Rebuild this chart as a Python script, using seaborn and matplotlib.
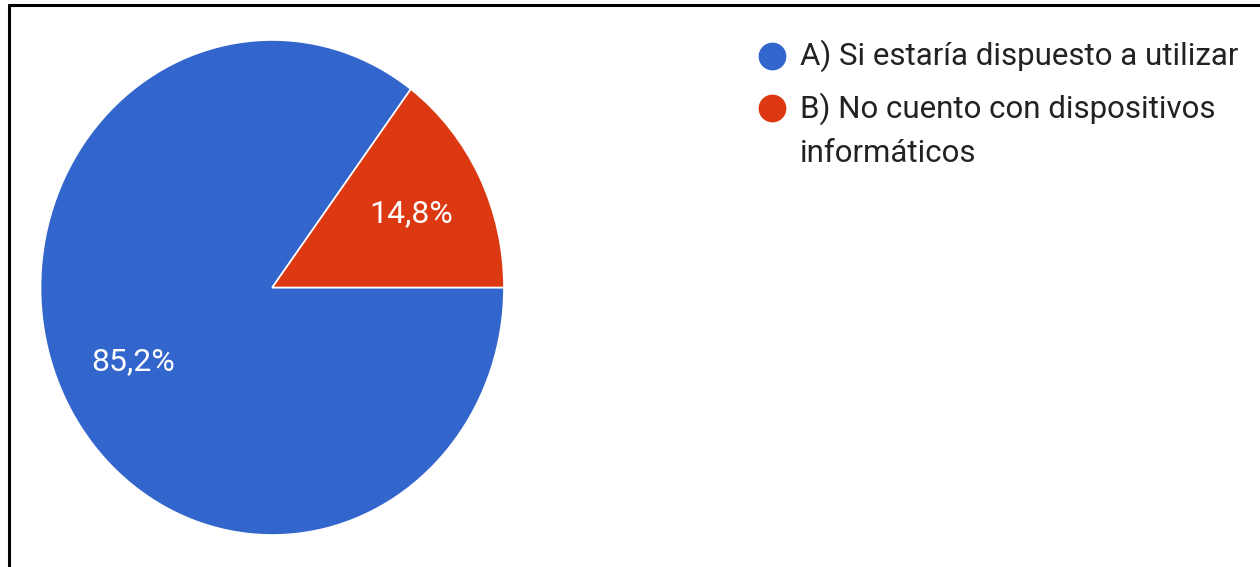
import matplotlib
matplotlib.use("Agg")
import matplotlib.pyplot as plt
import seaborn as sns
from matplotlib.lines import Line2D

# datos
categorias = ['A) Si estaría dispuesto a utilizar',
              'B) No cuento con dispositivos\ninformáticos']
porcentajes = [85.2, 14.8]
colores = ['#3366CC', '#DC3912']

sns.set_theme(style='white')
plt.rcParams['font.family'] = ['Roboto', 'DejaVu Sans']

W, H = 1260, 567
fig = plt.figure(figsize=(W / 100, H / 100), dpi=100)
fig.patch.set_facecolor('white')

# eje del pastel (en pixeles de la imagen)
x0, x1, y0, y1 = 40.5, 504, 40, 535
ax = fig.add_axes([x0 / W, 1 - y1 / H, (x1 - x0) / W, (y1 - y0) / H])
wedges, textos, autotextos = ax.pie(
    porcentajes, colors=colores, startangle=360 * porcentajes[1] / 100,
    counterclock=True, radius=1, pctdistance=0.67,
    autopct=lambda p: f'{p:.1f}%'.replace('.', ','),
    wedgeprops=dict(edgecolor='white', linewidth=1.2),
    textprops=dict(color='white', fontsize=23))
ax.set_aspect('auto')
ax.set_xlim(-1, 1)
ax.set_ylim(-1, 1)
ax.axis('off')

# leyenda (coordenadas en pixeles)
lax = fig.add_axes([0, 0, 1, 1])
lax.set_xlim(0, W)
lax.set_ylim(H, 0)
lax.axis('off')
ys = [55.5, 108]
for y, c, lab in zip(ys, colores, categorias):
    lax.plot(772, y, 'o', ms=20, color=c, mec='none')
    for i, linea in enumerate(lab.split('\n')):
        lax.text(800, y + 9.5 + 45 * i, linea, fontsize=22.5, color='#222222',
                 va='baseline', ha='left')

# marco
fig.add_artist(Line2D([8.7 / W, 1], [1 - 5.3 / H, 1 - 5.3 / H], color='black', lw=2.2))
fig.add_artist(Line2D([8.7 / W, 8.7 / W], [0, 1 - 5.3 / H], color='black', lw=2.2))

fig.savefig('out.png', dpi=100)
